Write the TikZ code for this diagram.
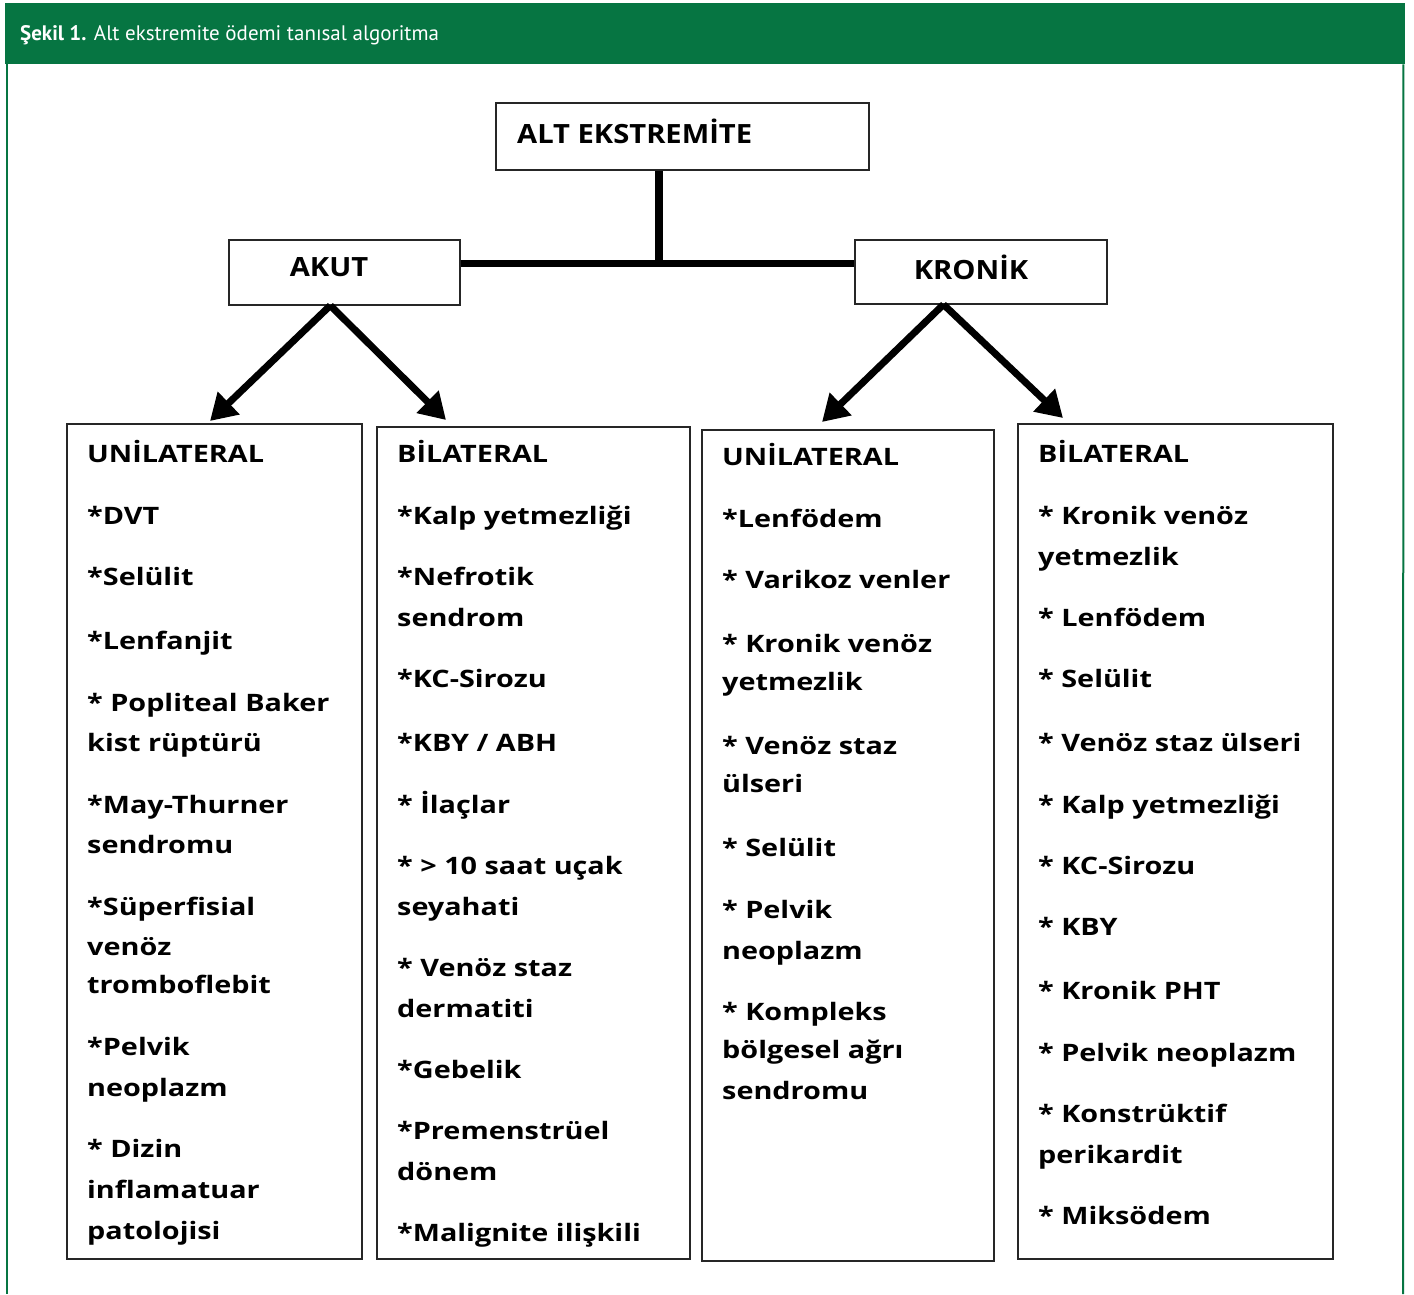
\documentclass[tikz,border=0pt]{standalone}
\usepackage{fontspec}
\setmainfont{Open Sans}
\newfontfamily\boxfont{Open Sans}[FakeStretch=1.2]
\newfontfamily\headingfont{Open Sans}[FakeStretch=1.1]
\newfontfamily\headfont{PT Sans}
\usetikzlibrary{arrows.meta,calc}
\definecolor{hgreen}{RGB}{6,117,66}
\newcommand\itemcol[3]{\foreach \yy/\txt [count=\i] in {#3} {\node[item] (#1-\i) at (#2,\yy) {\txt};}}
\begin{document}
\begin{tikzpicture}[x=1pt,y=-1pt,
  frame/.style={draw=black!85, line width=1.5pt, fill=white, inner sep=0pt, anchor=north west},
  item/.style={anchor=base west, inner sep=0pt, font=\boxfont\bfseries\fontsize{24}{28}\selectfont},
  heading/.style={inner sep=0pt, font=\headingfont\bfseries\fontsize{26.5}{30}\selectfont},
  barline/.style={line width=8pt},
  bigarrow/.style={line width=7pt, -{Triangle[length=26pt,width=30pt]}}]
\useasboundingbox (0,0) rectangle (1414,1294);
\fill[white] (0,0) rectangle (1414,1294);
% header
\node[fill=hgreen, minimum width=1400, minimum height=61, inner sep=0pt, anchor=north west] (header) at (5,3) {};
\node[anchor=base west, inner sep=0pt, text=white, font=\headfont\fontsize{21}{24}\selectfont] (title) at (20,40) {\textbf{Şekil 1.} Alt ekstremite ödemi tanısal algoritma};
\draw[hgreen, line width=2pt] (header.south west) ++(2,0) -- (7,1294);
\draw[hgreen, line width=2pt] (header.south east) ++(-2,0) -- (1403,1294);
% top level
\node[frame, minimum width=373, minimum height=67] (top) at (495,102) {};
\node[heading, anchor=base west] (toplabel) at (517,143) {ALT EKSTREMİTE};
\node[frame, minimum width=231, minimum height=65] (akut) at (228,239) {};
\node[heading, anchor=base] (akutlabel) at (329,276) {AKUT};
\node[frame, minimum width=252, minimum height=64] (kronik) at (854,239) {};
\node[heading, anchor=base] (kroniklabel) at (971,279) {KRONİK};
\coordinate (j) at (659,263);
\draw[barline] (top.south -| j) -- (j);
\draw[line width=7pt] (akut.east |- j) -- (kronik.west |- j);
% boxes
\node[frame, minimum width=295, minimum height=835] (b1) at (66,423) {};
\node[frame, minimum width=313, minimum height=832] (b2) at (376,426) {};
\node[frame, minimum width=292, minimum height=831] (b3) at (701,429) {};
\node[frame, minimum width=315, minimum height=835] (b4) at (1017,423) {};
% arrows
\coordinate (t1) at (210,421);
\coordinate (t2) at (446,420);
\coordinate (t3) at (822,422);
\coordinate (t4) at (1063,418);
\draw[bigarrow] ($(akut.south west)!0.44!(akut.south east)$) -- (t1);
\draw[bigarrow] ($(akut.south west)!0.44!(akut.south east)$) -- (t2);
\draw[bigarrow] ($(kronik.south west)!0.353!(kronik.south east)$) -- (t3);
\draw[bigarrow] ($(kronik.south west)!0.353!(kronik.south east)$) -- (t4);
% texts
\itemcol{c1}{87}{462/UNİLATERAL, 524/*DVT, 585/*Selülit, 649/*Lenfanjit, 711/* Popliteal Baker, 751/kist rüptürü, 813/*May-Thurner, 853/sendromu, 915/*Süperfisial, 955/venöz, 993/tromboflebit, 1055/*Pelvik, 1096/neoplazm, 1157/* Dizin, 1198/inflamatuar, 1239/patolojisi}
\itemcol{c2}{397}{462/BİLATERAL, 524/*Kalp yetmezliği, 585/*Nefrotik, 626/sendrom, 687/*KC-Sirozu, 751/{*KBY / ABH}, 813/* İlaçlar, 874/* > 10 saat uçak, 915/seyahati, 976/* Venöz staz, 1017/dermatiti, 1078/*Gebelik, 1139/*Premenstrüel, 1180/dönem, 1241/*Malignite ilişkili}
\itemcol{c3}{722}{465/UNİLATERAL, 527/*Lenfödem, 588/* Varikoz venler, 652/* Kronik venöz, 690/yetmezlik, 754/* Venöz staz, 792/ülseri, 856/* Selülit, 918/* Pelvik, 959/neoplazm, 1020/* Kompleks, 1058/bölgesel ağrı, 1099/sendromu}
\itemcol{c4}{1038}{462/BİLATERAL, 524/* Kronik venöz, 565/yetmezlik, 626/* Lenfödem, 687/* Selülit, 751/* Venöz staz ülseri, 813/* Kalp yetmezliği, 874/* KC-Sirozu, 935/* KBY, 999/* Kronik PHT, 1061/* Pelvik neoplazm, 1122/* Konstrüktif, 1163/perikardit, 1224/* Miksödem}
\end{tikzpicture}
\end{document}
